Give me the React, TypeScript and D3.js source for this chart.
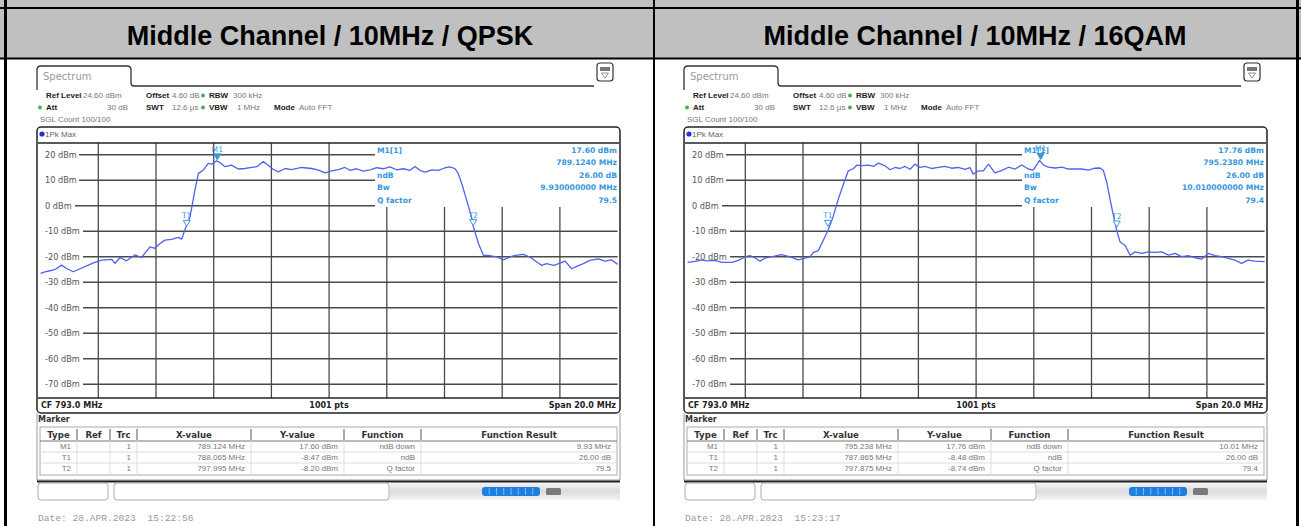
import React from 'react';
import * as d3 from 'd3';

const W = 1301;
const H = 526;

// header titles
const panelTitles = ['Middle Channel / 10MHz / QPSK', 'Middle Channel / 10MHz / 16QAM'];

// axis
const levelTicks = [20, 10, 0, -10, -20, -30, -40, -50, -60, -70];
const freqGrid = [785, 787, 789, 791, 793, 795, 797, 799, 801];

// traces: [MHz, dBm]
const qpskTrace = [
  [783.0, -26.5], [783.15, -25.9], [783.33, -25.5], [783.5, -25.0], [783.73, -23.3], [783.9, -24.6],
  [784.13, -25.9], [784.31, -25.0], [784.54, -23.9], [784.83, -22.4], [785.12, -21.3], [785.46, -21.0],
  [785.58, -22.6], [785.75, -20.3], [785.98, -21.6], [786.27, -19.3], [786.5, -20.3], [786.79, -16.1],
  [786.96, -16.7], [787.14, -14.8], [787.31, -13.5], [787.54, -13.2], [787.77, -12.4], [787.89, -13.1],
  [788.0, -9.5], [788.18, -4.3], [788.35, 6.1], [788.47, 12.7], [788.64, 14.0], [788.81, 16.6],
  [788.93, 16.3], [789.1, 17.6], [789.22, 16.9], [789.39, 15.3], [789.62, 15.9], [789.85, 14.4],
  [790.08, 14.6], [790.31, 15.0], [790.49, 15.3], [790.72, 17.3], [790.89, 15.9], [791.07, 14.2],
  [791.24, 13.3], [791.47, 14.6], [791.7, 14.2], [792.05, 15.0], [792.4, 14.6], [792.63, 14.0],
  [792.86, 12.9], [793.09, 13.7], [793.32, 14.2], [793.55, 15.0], [793.72, 13.9], [793.95, 14.5],
  [794.18, 13.6], [794.42, 14.1], [794.65, 14.9], [794.88, 14.5], [795.11, 15.2], [795.34, 14.1],
  [795.57, 14.5], [795.8, 13.9], [795.98, 15.4], [796.15, 13.9], [796.33, 13.2], [796.56, 14.1],
  [796.79, 13.9], [797.02, 14.9], [797.19, 15.2], [797.37, 14.5], [797.48, 12.5], [797.6, 8.6],
  [797.77, 2.1], [797.95, -5.1], [798.0, -8.2], [798.18, -14.9], [798.35, -19.5], [798.52, -19.5],
  [798.81, -20.1], [799.04, -21.2], [799.27, -20.1], [799.45, -19.5], [799.73, -19.1], [799.96, -20.1],
  [800.2, -22.1], [800.37, -23.4], [800.54, -22.7], [800.78, -23.4], [801.01, -22.5], [801.18, -21.7],
  [801.41, -24.7], [801.58, -23.8], [801.81, -22.7], [802.04, -21.4], [802.33, -20.8], [802.56, -21.7],
  [802.79, -21.2], [803.0, -23.0],
];

const qamTrace = [
  [783.0, -22.2], [783.26, -21.8], [783.49, -21.2], [783.66, -21.6], [783.95, -21.4], [784.18, -22.2],
  [784.53, -22.2], [784.76, -21.4], [784.99, -20.1], [785.16, -19.6], [785.34, -20.5], [785.51, -21.8],
  [785.68, -20.5], [785.97, -19.9], [786.26, -19.2], [786.55, -20.1], [786.84, -21.2], [787.07, -20.5],
  [787.24, -20.1], [787.36, -18.3], [787.53, -17.6], [787.7, -13.6], [787.88, -9.3], [788.05, -4.1],
  [788.22, 2.5], [788.4, 8.4], [788.57, 13.7], [788.75, 14.6], [788.86, 15.9], [789.04, 15.7],
  [789.27, 15.9], [789.44, 15.4], [789.61, 16.7], [789.84, 15.7], [790.02, 14.1], [790.19, 15.0],
  [790.36, 14.6], [790.54, 15.4], [790.71, 14.3], [790.88, 16.3], [791.06, 15.0], [791.23, 15.4],
  [791.46, 14.6], [791.69, 15.0], [791.92, 15.4], [792.15, 14.7], [792.38, 15.0], [792.61, 14.3],
  [792.79, 14.9], [792.9, 12.4], [793.08, 13.7], [793.25, 13.7], [793.43, 16.3], [793.65, 12.9],
  [793.88, 13.8], [794.12, 15.1], [794.35, 14.4], [794.58, 16.0], [794.81, 14.4], [794.98, 14.0],
  [795.2, 17.8], [795.33, 16.0], [795.5, 15.1], [795.74, 14.8], [795.97, 15.1], [796.2, 14.4],
  [796.43, 14.4], [796.66, 14.4], [796.89, 14.0], [797.12, 14.7], [797.3, 14.8], [797.41, 13.8],
  [797.53, 9.2], [797.64, 2.7], [797.76, -3.8], [797.87, -9.6], [797.99, -14.2], [798.16, -15.5],
  [798.34, -19.4], [798.51, -18.1], [798.74, -18.7], [798.97, -18.1], [799.2, -18.3], [799.43, -18.1],
  [799.67, -19.4], [799.9, -18.7], [800.13, -20.0], [800.36, -19.6], [800.59, -20.4], [800.82, -20.9],
  [801.05, -18.7], [801.28, -19.6], [801.51, -20.0], [801.74, -20.6], [801.97, -21.3], [802.2, -22.6],
  [802.43, -21.3], [802.66, -21.7], [803.0, -21.9],
];

// markers
const qpskMarkers = [
  { id: 'M1', f: 789.124, level: 17.6 },
  { id: 'T1', f: 788.065, level: -8.47 },
  { id: 'T2', f: 797.995, level: -8.2 },
];
const qamMarkers = [
  { id: 'M1', f: 795.238, level: 17.76 },
  { id: 'T1', f: 787.865, level: -8.48 },
  { id: 'T2', f: 797.875, level: -8.74 },
];

// marker info box
const infoLabels = ['M1[1]', '', 'ndB', 'Bw', 'Q factor'];
const qpskInfo = ['17.60 dBm', '789.1240 MHz', '26.00 dB', '9.930000000 MHz', '79.5'];
const qamInfo = ['17.76 dBm', '795.2380 MHz', '26.00 dB', '10.010000000 MHz', '79.4'];

// marker table
const tableHeader = ['Type', 'Ref', 'Trc', 'X-value', 'Y-value', 'Function', 'Function Result'];
const qpskTable = [
  ['M1', '', '1', '789.124 MHz', '17.60 dBm', 'ndB down', '9.93 MHz'],
  ['T1', '', '1', '788.065 MHz', '-8.47 dBm', 'ndB', '26.00 dB'],
  ['T2', '', '1', '797.995 MHz', '-8.20 dBm', 'Q factor', '79.5'],
];
const qamTable = [
  ['M1', '', '1', '795.238 MHz', '17.76 dBm', 'ndB down', '10.01 MHz'],
  ['T1', '', '1', '787.865 MHz', '-8.48 dBm', 'ndB', '26.00 dB'],
  ['T2', '', '1', '797.875 MHz', '-8.74 dBm', 'Q factor', '79.4'],
];

const dates = ['Date: 28.APR.2023  15:22:56', 'Date: 28.APR.2023  15:23:17'];

const SANS = 'DejaVu Sans, Verdana, sans-serif';
const ARIAL = 'Liberation Sans, Arial, sans-serif';
const BLUE = '#3797dc';
const GRID = '#4a4a4a';

const colEdges = [40, 77, 110, 137, 251, 344, 421, 617];

function Panel({ dx, trace, markers, info, table, date }) {
  const x = d3.scaleLinear().domain([783, 803]).range([40.6, 617.6]);
  const y = d3.scaleLinear().domain([24.6, -75.4]).range([143, 398]);
  const line = d3.line().x(d => x(d[0])).y(d => y(d[1]));
  const boxLeft = 375;
  const boxBottom = 207;
  const rowY = [435, 447, 458, 469];

  return (
    <g transform={`translate(${dx},0)`}>
      {/* tab */}
      <path d="M37,90 L37,70 Q37,66 41,66 L127,66 Q131,66 131,70 L131,83 Q131,86 134,86 L594,86"
        fill="none" stroke="#333" strokeWidth={1.3} />
      <text x={43} y={80} fontFamily={SANS} fontSize={10} fill="#999">Spectrum</text>
      <rect x={597} y={63} width={16} height={18} rx={3} fill="#fff" stroke="#333" strokeWidth={1.2} />
      <rect x={600} y={67} width={10} height={4} fill="#777" />
      <path d="M601.5,73 L608.5,73 L605,78 Z" fill="none" stroke="#777" strokeWidth={0.8} />

      {/* settings */}
      <g fontFamily={ARIAL} fontSize={8}>
        <text x={46} y={98} fontWeight="bold" fill="#222">Ref Level</text>
        <text x={83} y={98} fill="#777">24.60 dBm</text>
        <text x={146} y={98} fontWeight="bold" fill="#222">Offset</text>
        <text x={172} y={98} fill="#777">4.60 dB</text>
        <circle cx={203} cy={95.5} r={2} fill="#4caf50" />
        <text x={209} y={98} fontWeight="bold" fill="#222">RBW</text>
        <text x={233} y={98} fill="#777">300 kHz</text>

        <circle cx={40} cy={107.5} r={2} fill="#4caf50" />
        <text x={46} y={110} fontWeight="bold" fill="#222">Att</text>
        <text x={128} y={110} textAnchor="end" fill="#777">30 dB</text>
        <text x={146} y={110} fontWeight="bold" fill="#222">SWT</text>
        <text x={172} y={110} fill="#777">12.6 µs</text>
        <circle cx={203} cy={107.5} r={2} fill="#4caf50" />
        <text x={209} y={110} fontWeight="bold" fill="#222">VBW</text>
        <text x={260} y={110} textAnchor="end" fill="#777">1 MHz</text>
        <text x={274} y={110} fontWeight="bold" fill="#222">Mode</text>
        <text x={299} y={110} fill="#777">Auto FFT</text>

        <text x={40} y={122} fill="#777">SGL Count 100/100</text>
      </g>

      {/* graph frame */}
      <rect x={37} y={127} width={583} height={286} rx={4} fill="#fff" stroke="#222" strokeWidth={1.5} />
      <circle cx={42} cy={134} r={2.6} fill="#2233dd" />
      <text x={45} y={137} fontFamily={ARIAL} fontSize={8} fill="#666">1Pk Max</text>

      {/* grid */}
      {levelTicks.map(t => {
        const lbl = `${t} dBm`;
        const x1 = 45 + 33 + (lbl.length - 6) * 4 + 1;
        return (
          <g key={t}>
            <line x1={x1} x2={t >= 0 ? boxLeft : x(803)} y1={y(t)} y2={y(t)} stroke={GRID} strokeWidth={1.3} />
            <text x={45} y={y(t) + 3} fontFamily={SANS} fontSize={8.2} fill="#555">{lbl}</text>
          </g>
        );
      })}
      {freqGrid.map(f => (
        <line key={f} x1={x(f)} x2={x(f)} y1={x(f) > boxLeft ? boxBottom : y(24.6)} y2={y(-75.4)}
          stroke={GRID} strokeWidth={1.3} />
      ))}
      <line x1={38} x2={619} y1={y(24.6)} y2={y(24.6)} stroke="#222" strokeWidth={1.3} />
      <line x1={38} x2={619} y1={y(-75.4)} y2={y(-75.4)} stroke="#222" strokeWidth={1.3} />

      {/* marker info */}
      <g fontFamily={SANS} fontSize={7.6} fontWeight="bold" fill={BLUE}>
        {infoLabels.map((l, i) => (
          <text key={'l' + i} x={377} y={153 + i * 12.4}>{l}</text>
        ))}
        {info.map((v, i) => (
          <text key={'v' + i} x={617} y={153 + i * 12.4} textAnchor="end">{v}</text>
        ))}
      </g>

      {/* trace */}
      <path d={line(trace)} fill="none" stroke="#5262ea" strokeWidth={1.3} strokeLinejoin="round" />

      {/* markers */}
      {markers.map(m => {
        const mx = x(m.f);
        const my = y(m.level);
        const filled = m.id === 'M1';
        return (
          <g key={m.id}>
            <path d={`M${mx},${my - 1} L${mx - 3.5},${my - 7} L${mx + 3.5},${my - 7} Z`}
              fill={filled ? BLUE : '#fff'} stroke={BLUE} strokeWidth={1} />
            <text x={mx} y={my - 9} textAnchor="middle" fontFamily={SANS} fontSize={7.6} fill={BLUE}>{m.id}</text>
          </g>
        );
      })}

      {/* bottom graph row */}
      <g fontFamily={SANS} fontSize={8} fontWeight="bold" fill="#222">
        <text x={41} y={408}>CF 793.0 MHz</text>
        <text x={329} y={408} textAnchor="middle">1001 pts</text>
        <text x={616} y={408} textAnchor="end">Span 20.0 MHz</text>
      </g>

      {/* marker table */}
      <path d="M37,413 L37,480 L620,480 L620,413" fill="none" stroke="#999" strokeWidth={1} />
      <text x={38} y={422} fontFamily={SANS} fontSize={8} fontWeight="bold" fill="#333">Marker</text>
      <rect x={40} y={427} width={577} height={48} fill="#fff" stroke="#aaa" strokeWidth={1} />
      <line x1={40} x2={617} y1={441} y2={441} stroke="#777" strokeWidth={1} />
      <line x1={40} x2={617} y1={452} y2={452} stroke="#ddd" strokeWidth={1} />
      <line x1={40} x2={617} y1={463} y2={463} stroke="#ddd" strokeWidth={1} />
      {colEdges.slice(1, -1).map(c => (
        <g key={c}>
          <line x1={c} x2={c} y1={429} y2={440} stroke="#555" strokeWidth={1} />
          <line x1={c} x2={c} y1={441} y2={475} stroke="#ddd" strokeWidth={1} />
        </g>
      ))}
      {tableHeader.map((h, i) => (
        <text key={h} x={(colEdges[i] + colEdges[i + 1]) / 2} y={438} textAnchor="middle"
          fontFamily={SANS} fontSize={8.6} fontWeight="bold" fill="#333">{h}</text>
      ))}
      {table.map((row, r) => row.map((v, c) => (
        <text key={r + '-' + c} x={colEdges[c + 1] - 6} y={rowY[r + 1] + 2} textAnchor="end"
          fontFamily={ARIAL} fontSize={8} fill="#777">{v}</text>
      )))}

      {/* status bar */}
      <rect x={390} y={482} width={230} height={18} fill="url(#barGrad)" />
      <line x1={37} x2={620} y1={481.5} y2={481.5} stroke="#222" strokeWidth={2} />
      <rect x={38} y={483} width={70} height={17} rx={3} fill="#fff" stroke="#aaa" strokeWidth={1} />
      <rect x={114} y={483} width={275} height={17} rx={3} fill="#fff" stroke="#aaa" strokeWidth={1} />
      <rect x={482} y={487} width={58} height={9} rx={3} fill="#1f7fe0" />
      {d3.range(1, 8).map(k => (
        <line key={k} x1={482 + k * 7.25} x2={482 + k * 7.25} y1={488} y2={495} stroke="#9cc8f2" strokeWidth={0.8} />
      ))}
      <rect x={546} y={488} width={15} height={7} rx={1.5} fill="#7a7a7a" />

      <text x={38} y={521} fontFamily="Liberation Mono, monospace" fontSize={9.6} fill="#999"
        style={{ whiteSpace: 'pre' }}>{date}</text>
    </g>
  );
}

export default function App() {
  return (
    <div style={{ position: 'absolute', left: 0, top: 0 }}>
      <svg width={W} height={H} viewBox={`0 0 ${W} ${H}`} style={{ display: 'block' }}>
        <defs>
          <linearGradient id="barGrad" x1="0" y1="0" x2="0" y2="1">
            <stop offset="0" stopColor="#f7f7f7" />
            <stop offset="0.5" stopColor="#dcdcdc" />
            <stop offset="1" stopColor="#f3f3f3" />
          </linearGradient>
        </defs>
        <rect x={0} y={0} width={W} height={H} fill="#fff" />
        <rect x={0} y={0} width={W} height={8} fill="#c0c0c0" />
        <rect x={0} y={9} width={W} height={49} fill="#c0c0c0" />
        <line x1={0} x2={W} y1={8} y2={8} stroke="#000" strokeWidth={2} />
        <line x1={0} x2={W} y1={58.5} y2={58.5} stroke="#000" strokeWidth={2} />
        <line x1={5.5} x2={5.5} y1={0} y2={H} stroke="#000" strokeWidth={3} />
        <line x1={654} x2={654} y1={0} y2={H} stroke="#000" strokeWidth={2} />
        <line x1={1297.5} x2={1297.5} y1={0} y2={H} stroke="#000" strokeWidth={3} />
        {panelTitles.map((t, i) => (
          <text key={t} x={i === 0 ? 330 : 975} y={45} textAnchor="middle"
            fontFamily="Liberation Sans, Arial, sans-serif" fontWeight="bold" fontSize={27} fill="#000">{t}</text>
        ))}
        <Panel dx={0} trace={qpskTrace} markers={qpskMarkers} info={qpskInfo} table={qpskTable} date={dates[0]} />
        <Panel dx={647} trace={qamTrace} markers={qamMarkers} info={qamInfo} table={qamTable} date={dates[1]} />
      </svg>
    </div>
  );
}
